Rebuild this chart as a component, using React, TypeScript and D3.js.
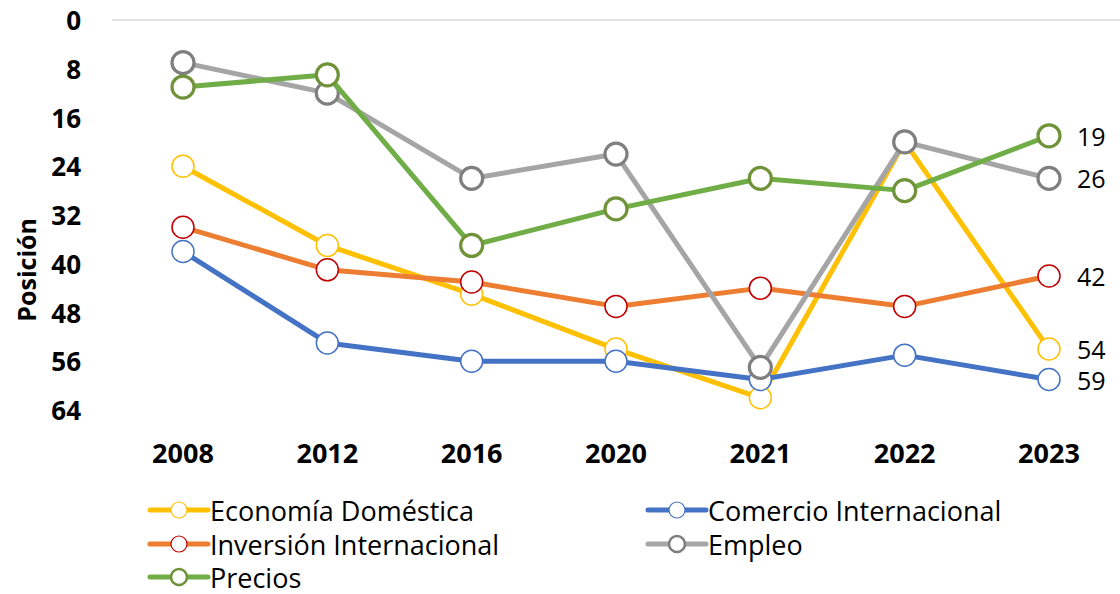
import { useMemo } from "react";
import * as d3 from "d3";

const YEARS = ["2008", "2012", "2016", "2020", "2021", "2022", "2023"];
const Y_TICKS = [0, 8, 16, 24, 32, 40, 48, 56, 64];

const NAMES = [
  "Economía Doméstica",
  "Comercio Internacional",
  "Inversión Internacional",
  "Empleo",
  "Precios",
];

const ECONOMIA = [24, 37, 45, 54, 62, 20, 54];
const COMERCIO = [38, 53, 56, 56, 59, 55, 59];
const INVERSION = [34, 41, 43, 47, 44, 47, 42];
const EMPLEO = [7, 12, 26, 22, 57, 20, 26];
const PRECIOS = [11, 9, 37, 31, 26, 28, 19];

const LINE_COLORS = ["#FFC000", "#4472C4", "#ED7D31", "#A5A5A5", "#70AD47"];
const MARKER_COLORS = ["#FFC000", "#4472C4", "#C00000", "#7F7F7F", "#70933A"];
const MARKER_WIDTHS = [1.5, 1.5, 1.5, 3.2, 3.2];

const FONT = "'Open Sans', 'Noto Sans', sans-serif";
const W = 1120;
const H = 594;

export default function App() {
  const series = [ECONOMIA, COMERCIO, INVERSION, EMPLEO, PRECIOS];

  const x = useMemo(
    () => d3.scalePoint<string>().domain(YEARS).range([183, 1049]),
    []
  );
  const y = useMemo(() => d3.scaleLinear().domain([0, 64]).range([20, 410]), []);

  const line = d3
    .line<number>()
    .x((_, i) => x(YEARS[i]) as number)
    .y((d) => y(d));

  const legend = [
    { i: 0, lx: 150, ly: 510 },
    { i: 1, lx: 648, ly: 510 },
    { i: 2, lx: 150, ly: 544 },
    { i: 3, lx: 648, ly: 544 },
    { i: 4, lx: 150, ly: 577 },
  ];

  return (
    <svg
      width={W}
      height={H}
      style={{ position: "absolute", left: 0, top: 0, background: "#fff" }}
      fontFamily={FONT}
    >
      <line x1={112} x2={W} y1={y(0)} y2={y(0)} stroke="#D9D9D9" strokeWidth={1.5} />

      {Y_TICKS.map((t) => (
        <text
          key={t}
          x={81}
          y={y(t)}
          textAnchor="end"
          dominantBaseline="central"
          fontSize={26}
          fontWeight={700}
          fill="#000"
        >
          {t}
        </text>
      ))}

      <text
        transform={`translate(26,${y(41)}) rotate(-90)`}
        textAnchor="middle"
        dominantBaseline="central"
        fontSize={25}
        fontWeight={700}
      >
        Posición
      </text>

      {YEARS.map((yr) => (
        <text
          key={yr}
          x={x(yr)}
          y={452}
          textAnchor="middle"
          dominantBaseline="central"
          fontSize={27}
          fontWeight={700}
        >
          {yr}
        </text>
      ))}

      {series.map((s, si) => (
        <g key={si}>
          <path
            d={line(s) ?? ""}
            fill="none"
            stroke={LINE_COLORS[si]}
            strokeWidth={5}
            strokeLinejoin="round"
            strokeLinecap="round"
          />
          {s.map((v, i) => (
            <circle
              key={i}
              cx={x(YEARS[i])}
              cy={y(v)}
              r={11}
              fill="#fff"
              stroke={MARKER_COLORS[si]}
              strokeWidth={MARKER_WIDTHS[si]}
            />
          ))}
          <text
            x={1077}
            y={y(s[s.length - 1])}
            dominantBaseline="central"
            fontSize={25}
            fill="#000"
          >
            {s[s.length - 1]}
          </text>
        </g>
      ))}

      {legend.map(({ i, lx, ly }) => (
        <g key={i}>
          <line
            x1={lx}
            x2={lx + 58}
            y1={ly}
            y2={ly}
            stroke={LINE_COLORS[i]}
            strokeWidth={5}
            strokeLinecap="round"
          />
          <circle
            cx={lx + 29}
            cy={ly}
            r={8}
            fill="#fff"
            stroke={MARKER_COLORS[i]}
            strokeWidth={MARKER_WIDTHS[i] * 0.8}
          />
          <text x={lx + 60} y={ly} dominantBaseline="central" fontSize={27}>
            {NAMES[i]}
          </text>
        </g>
      ))}
    </svg>
  );
}
